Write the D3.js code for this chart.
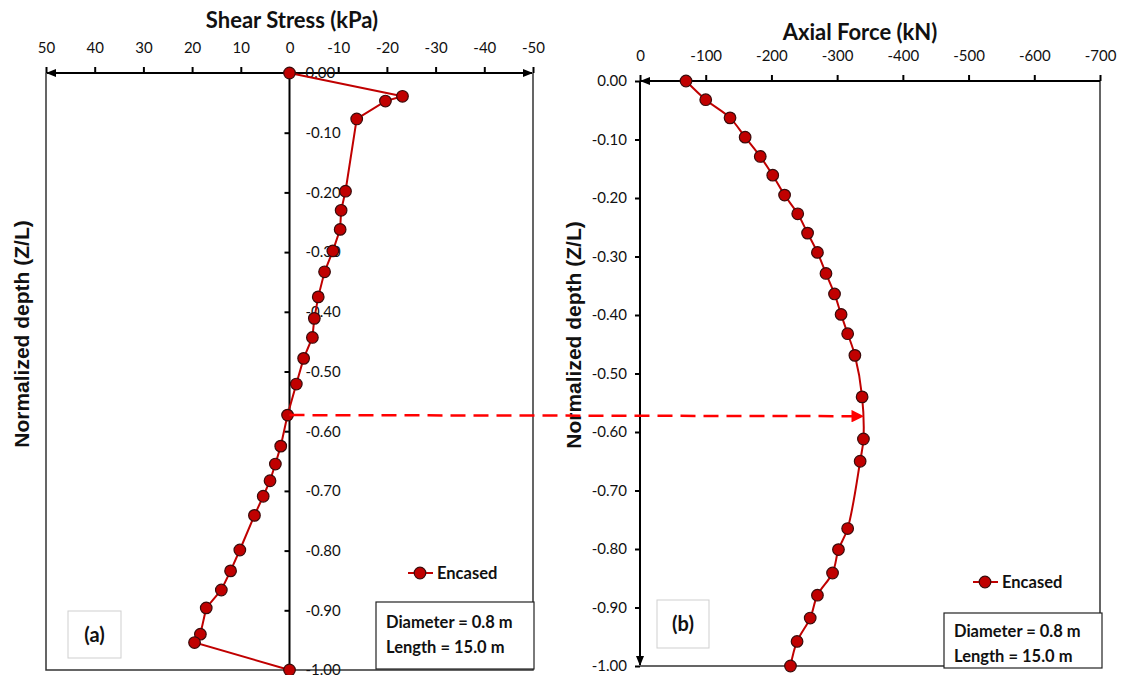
<!DOCTYPE html>
<html>
<head>
    <meta charset="utf-8">
    <script src="https://d3js.org/d3.v7.min.js"></script>
    <style>
        body { margin: 0; background: #fff; }
        text { font-family: Lato, "Open Sans", sans-serif; fill: #111; }
    </style>
</head>
<body>
    <script>
        // Panel (a): shear stress (kPa) vs normalized depth
        const shearStress = [0, -23.2, -19.7, -13.8, -11.5, -10.6, -10.4, -8.9, -7.2, -5.9, -5.1, -4.7, -2.9, -1.4,
            0.4, 1.8, 2.9, 4.0, 5.4, 7.2, 10.2, 12.1, 14.0, 17.1, 18.3, 19.5, 0];
        const shearDepth = [0, -0.039, -0.047, -0.077, -0.198, -0.230, -0.262, -0.298, -0.333, -0.375, -0.411, -0.443, -0.478, -0.521,
            -0.573, -0.625, -0.655, -0.683, -0.709, -0.741, -0.799, -0.834, -0.866, -0.896, -0.940, -0.954, -1.0];

        // Panel (b): axial force (kN) vs normalized depth
        const axialForce = [-70, -100, -137, -160, -183, -202, -220, -240, -255, -270, -283, -296, -306, -316, -327,
            -338, -340, -335, -316, -302, -293, -270, -259, -239, -229];
        const axialDepth = [0, -0.032, -0.063, -0.096, -0.129, -0.161, -0.195, -0.227, -0.260, -0.293, -0.329, -0.364, -0.399, -0.432, -0.469,
            -0.540, -0.612, -0.650, -0.765, -0.801, -0.841, -0.879, -0.918, -0.958, -1.0];

        const shearTicks = [50, 40, 30, 20, 10, 0, -10, -20, -30, -40, -50];
        const axialTicks = [0, -100, -200, -300, -400, -500, -600, -700];
        const depthTicks = [0, -0.1, -0.2, -0.3, -0.4, -0.5, -0.6, -0.7, -0.8, -0.9, -1.0];

        // dashed link between zero shear and max axial force
        const linkDepth = -0.573;
        const linkForce = -342;

        const seriesName = 'Encased';
        const infoLines = ['Diameter = 0.8 m', 'Length = 15.0 m'];

        const lineColor = '#c00000';
        const fmt = d => (Math.abs(d) < 1e-9 ? 0 : d).toFixed(2);

        const svg = d3.select('body')
            .append('svg')
            .attr('width', 1126)
            .attr('height', 675);

        const defs = svg.append('defs');
        defs.append('marker')
            .attr('id', 'axArrow')
            .attr('viewBox', '0 0 10 10')
            .attr('refX', 9).attr('refY', 5)
            .attr('markerWidth', 5).attr('markerHeight', 5)
            .attr('orient', 'auto-start-reverse')
            .append('path').attr('d', 'M0,1 L10,5 L0,9 z').attr('fill', '#000');
        defs.append('marker')
            .attr('id', 'redArrow')
            .attr('viewBox', '0 0 10 10')
            .attr('refX', 9).attr('refY', 5)
            .attr('markerWidth', 5).attr('markerHeight', 5)
            .attr('markerUnits', 'strokeWidth')
            .attr('orient', 'auto')
            .append('path').attr('d', 'M0,0 L10,5 L0,10 z').attr('fill', '#ff0000');

        // scales
        const xL = d3.scaleLinear().domain([50, -50]).range([46, 533]);
        const yL = d3.scaleLinear().domain([-1, 0]).range([670, 73]);
        const xR = d3.scaleLinear().domain([0, -700]).range([640, 1100]);
        const yR = d3.scaleLinear().domain([-1, 0]).range([666, 81]);

        function styleAxis(g) {
            g.select('.domain').remove();
            g.selectAll('line').attr('stroke', '#000').attr('stroke-width', 2);
            g.selectAll('text')
                .style('font-family', 'Lato, "Open Sans", sans-serif')
                .style('font-size', '15px')
                .attr('fill', '#000');
        }

        function marker(g, x, y) {
            g.append('circle')
                .attr('cx', x).attr('cy', y).attr('r', 5.8)
                .attr('fill', lineColor)
                .attr('stroke', '#3a0a0a')
                .attr('stroke-width', 1.2);
        }

        function yTitle(g, x, y) {
            g.append('text')
                .attr('transform', `translate(${x},${y}) rotate(-90)`)
                .attr('text-anchor', 'middle')
                .style('font-family', '"Liberation Sans", Arial, sans-serif')
                .style('font-size', '21px').style('font-weight', 'bold')
                .text('Normalized depth (Z/L)');
        }

        function infoBox(g, x, y, w, h, base) {
            g.append('rect').attr('x', x).attr('y', y).attr('width', w).attr('height', h)
                .attr('fill', '#fff').attr('stroke', '#222').attr('stroke-width', 1.2);
            infoLines.forEach((t, i) => {
                g.append('text').attr('x', x + 10).attr('y', base + i * 25)
                    .style('font-size', '16.5px').style('font-weight', 'bold').text(t);
            });
        }

        function legend(g, x, y) {
            g.append('line').attr('x1', x - 12).attr('x2', x + 13).attr('y1', y).attr('y2', y)
                .attr('stroke', lineColor).attr('stroke-width', 2);
            marker(g, x, y);
            g.append('text').attr('x', x + 17).attr('y', y + 6)
                .style('font-size', '16.5px').style('font-weight', 'bold').text(seriesName);
        }

        function panelLabel(g, x, y, w, h, t) {
            g.append('rect').attr('x', x).attr('y', y).attr('width', w).attr('height', h)
                .attr('fill', '#fff').attr('stroke', '#cfcfcf').attr('stroke-width', 1);
            g.append('text').attr('x', x + w / 2).attr('y', y + h / 2 + 7).attr('text-anchor', 'middle')
                .style('font-size', '20px').style('font-weight', 'bold').text(t);
        }

        // ---------- panel (a) ----------
        const pa = svg.append('g');

        // plot border
        pa.append('path')
            .attr('d', `M${xL(50)},${yL(0)} V${yL(-1)} H${xL(-50)} V${yL(0)}`)
            .attr('fill', 'none').attr('stroke', '#333').attr('stroke-width', 1.5);

        pa.append('g')
            .attr('transform', `translate(0,${yL(0)})`)
            .call(d3.axisTop(xL).tickValues(shearTicks).tickSize(6).tickPadding(14).tickFormat(d => String(d)))
            .call(styleAxis);

        pa.append('line')
            .attr('x1', xL(50) + 1).attr('x2', xL(-50) - 1)
            .attr('y1', yL(0)).attr('y2', yL(0))
            .attr('stroke', '#000').attr('stroke-width', 2)
            .attr('marker-start', 'url(#axArrow)')
            .attr('marker-end', 'url(#axArrow)');

        pa.append('g')
            .attr('transform', `translate(${xL(0)},0)`)
            .call(d3.axisRight(yL).tickValues(depthTicks).tickSize(-5).tickPadding(16).tickFormat(fmt))
            .call(styleAxis);

        pa.append('line')
            .attr('x1', xL(0)).attr('x2', xL(0))
            .attr('y1', yL(0)).attr('y2', yL(-1))
            .attr('stroke', '#000').attr('stroke-width', 2);

        const shearPts = shearStress.map((v, i) => [v, shearDepth[i]]);
        pa.append('path')
            .datum(shearPts)
            .attr('fill', 'none')
            .attr('stroke', lineColor)
            .attr('stroke-width', 2)
            .attr('d', d3.line().x(d => xL(d[0])).y(d => yL(d[1])));
        shearPts.forEach(d => marker(pa, xL(d[0]), yL(d[1])));

        pa.append('text')
            .attr('x', 292).attr('y', 28)
            .attr('text-anchor', 'middle')
            .style('font-size', '22px').style('font-weight', 'bold')
            .text('Shear Stress (kPa)');

        yTitle(pa, 29, 334);

        legend(pa, 420, 573);
        infoBox(pa, 376, 602, 158, 67, 628);
        panelLabel(pa, 68, 611, 53, 47, '(a)');

        // ---------- panel (b) ----------
        const pb = svg.append('g');

        pb.append('path')
            .attr('d', `M${xR(0)},${yR(-1)} H${xR(-700)} V${yR(0)}`)
            .attr('fill', 'none').attr('stroke', '#333').attr('stroke-width', 1.5);

        pb.append('g')
            .attr('transform', `translate(0,${yR(0)})`)
            .call(d3.axisTop(xR).tickValues(axialTicks).tickSize(6).tickPadding(14).tickFormat(d => String(d)))
            .call(styleAxis);

        pb.append('line')
            .attr('x1', xR(0) + 1).attr('x2', xR(-700))
            .attr('y1', yR(0)).attr('y2', yR(0))
            .attr('stroke', '#000').attr('stroke-width', 2)
            .attr('marker-start', 'url(#axArrow)');

        pb.append('g')
            .attr('transform', `translate(${xR(0)},0)`)
            .call(d3.axisLeft(yR).tickValues(depthTicks).tickSize(5).tickPadding(8).tickFormat(fmt))
            .call(styleAxis);

        pb.append('line')
            .attr('x1', xR(0)).attr('x2', xR(0))
            .attr('y1', yR(0)).attr('y2', yR(-1) - 1)
            .attr('stroke', '#000').attr('stroke-width', 2)
            .attr('marker-end', 'url(#axArrow)');

        const axialPts = axialForce.map((v, i) => [v, axialDepth[i]]);
        pb.append('path')
            .datum(axialPts)
            .attr('fill', 'none')
            .attr('stroke', lineColor)
            .attr('stroke-width', 2)
            .attr('d', d3.line().curve(d3.curveCatmullRom.alpha(0.5)).x(d => xR(d[0])).y(d => yR(d[1])));
        axialPts.forEach(d => marker(pb, xR(d[0]), yR(d[1])));

        pb.append('text')
            .attr('x', 860).attr('y', 40)
            .attr('text-anchor', 'middle')
            .style('font-size', '22px').style('font-weight', 'bold')
            .text('Axial Force (kN)');

        yTitle(pb, 581, 335);

        legend(pb, 985, 582);
        infoBox(pb, 944, 613, 158, 55, 637);
        panelLabel(pb, 657, 600, 52, 48, '(b)');

        // ---------- dashed link arrow ----------
        svg.append('line')
            .attr('x1', xL(0)).attr('y1', yL(linkDepth))
            .attr('x2', xR(linkForce) - 2).attr('y2', yR(linkDepth))
            .attr('stroke', '#ff0000')
            .attr('stroke-width', 2.5)
            .attr('stroke-dasharray', '15,8')
            .attr('marker-end', 'url(#redArrow)');
    </script>
</body>
</html>
